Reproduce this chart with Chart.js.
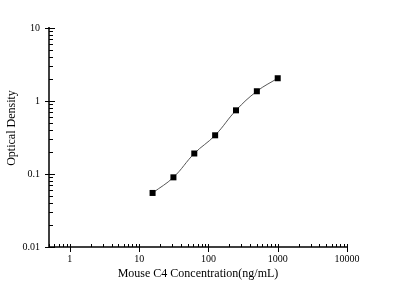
<!DOCTYPE html>
<html>
<head>
<meta charset="utf-8">
<script src="https://cdn.jsdelivr.net/npm/chart.js@4/dist/chart.umd.min.js"></script>
<style>
    html, body { margin: 0; padding: 0; background: #fff; }
    #wrap { width: 394px; height: 294px; }
</style>
</head>
<body>
<div id="wrap"><canvas id="chart" width="394" height="294"></canvas></div>
<script>
// standard curve points
const concentrations = [15.625, 31.25, 62.5, 125, 250, 500, 1000];
const opticalDensity = [0.055, 0.090, 0.191, 0.339, 0.745, 1.36, 2.05];

const xTickValues = [1, 10, 100, 1000, 10000];
const yTickValues = [0.01, 0.1, 1, 10];
const xTitle = 'Mouse C4 Concentration(ng/mL)';
const yTitle = 'Optical Density';

const FONT = '"Liberation Serif", "Times New Roman", serif';

// log axes with inward minor ticks, major ticks crossing the axis line
const axisTicks = {
    id: 'axisTicks',
    afterDraw(chart) {
        const { ctx, chartArea: a, scales: { x, y } } = chart;
        ctx.save();
        ctx.strokeStyle = '#000';

        ctx.lineWidth = 1.5;
        ctx.beginPath();
        ctx.moveTo(a.left, a.top - 1);
        ctx.lineTo(a.left, a.bottom);
        ctx.lineTo(a.right + 1, a.bottom);
        ctx.stroke();

        ctx.lineWidth = 1;
        ctx.beginPath();
        [0.1, 1, 10, 100, 1000, 10000].forEach(d => {
            for (let m = 1; m <= 9; m++) {
                const v = d * m;
                if (v < x.min || v > x.max * 1.0001) continue;
                const px = Math.round(x.getPixelForValue(v)) + 0.5;
                const major = m === 1;
                ctx.moveTo(px, a.bottom - 3);
                ctx.lineTo(px, a.bottom + (major ? 5 : 0));
            }
        });
        [0.01, 0.1, 1, 10].forEach(d => {
            for (let m = 1; m <= 9; m++) {
                const v = d * m;
                if (v < y.min * 0.9999 || v > y.max * 1.0001) continue;
                const py = Math.round(y.getPixelForValue(v)) + 0.5;
                const major = m === 1;
                ctx.moveTo(a.left - (major ? 4 : 0), py);
                ctx.lineTo(a.left + (major ? 6 : 4), py);
            }
        });
        ctx.stroke();

        // y axis title
        ctx.fillStyle = '#000';
        ctx.font = '12px ' + FONT;
        ctx.textAlign = 'center';
        ctx.textBaseline = 'middle';
        ctx.translate(12, 128);
        ctx.rotate(-Math.PI / 2);
        ctx.fillText(yTitle, 0, 0);
        ctx.restore();
    }
};

new Chart(document.getElementById('chart'), {
    type: 'line',
    data: {
        datasets: [{
            data: concentrations.map((c, i) => ({ x: c, y: opticalDensity[i] })),
            borderColor: '#555',
            borderWidth: 1,
            tension: 0.4,
            pointStyle: 'rect',
            pointRadius: 4.25,
            pointBackgroundColor: '#000',
            pointBorderColor: '#000',
            pointBorderWidth: 0,
            fill: false
        }]
    },
    options: {
        responsive: false,
        animation: false,
        devicePixelRatio: 1,
        layout: { padding: { left: 0, top: 28, right: 47, bottom: 0 } },
        plugins: { legend: { display: false }, tooltip: { enabled: false } },
        scales: {
            x: {
                type: 'logarithmic',
                min: 0.5,
                max: 10000,
                grid: { display: false, drawTicks: false },
                border: { display: false },
                afterFit: s => { s.height = 47; },
                afterBuildTicks: s => { s.ticks = xTickValues.map(v => ({ value: v })); },
                ticks: {
                    color: '#000',
                    padding: 6,
                    maxRotation: 0,
                    autoSkip: false,
                    font: { family: FONT, size: 10 },
                    callback: v => String(v)
                },
                title: {
                    display: true,
                    text: xTitle,
                    color: '#000',
                    font: { family: FONT, size: 12 },
                    padding: { top: 4, bottom: 13 }
                }
            },
            y: {
                type: 'logarithmic',
                min: 0.01,
                max: 10,
                grid: { display: false, drawTicks: false },
                border: { display: false },
                afterFit: s => { s.width = 49; },
                afterBuildTicks: s => { s.ticks = yTickValues.map(v => ({ value: v })); },
                ticks: {
                    color: '#000',
                    padding: 9,
                    autoSkip: false,
                    font: { family: FONT, size: 10 },
                    callback: v => String(v)
                }
            }
        }
    },
    plugins: [axisTicks]
});
</script>
</body>
</html>
